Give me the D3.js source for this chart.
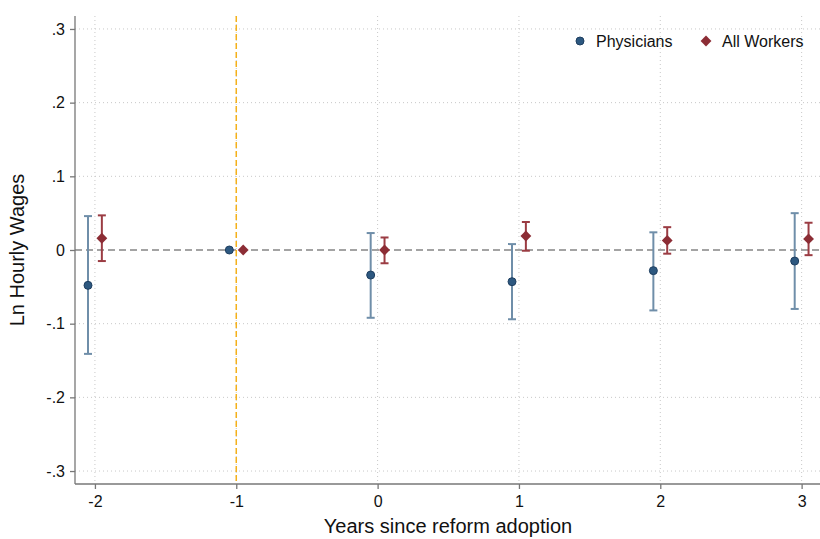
<!DOCTYPE html>
<html>
<head>
<meta charset="utf-8">
<script src="https://cdn.jsdelivr.net/npm/d3@7"></script>
<style>
  body { margin: 0; background: #fff; }
  svg { display: block; font-family: "Liberation Sans", Arial, sans-serif; }
</style>
</head>
<body>
<svg id="chart" width="820" height="539"></svg>
<script>
// event-time years
let years = [-2, -1, 0, 1, 2, 3];

// physicians: estimate and 95% CI
let physEst = [-0.048, 0, -0.034, -0.043, -0.028, -0.015];
let physLo  = [-0.141, null, -0.092, -0.094, -0.082, -0.080];
let physHi  = [0.046, null, 0.023, 0.008, 0.024, 0.050];

// all workers: estimate and 95% CI
let workEst = [0.016, 0, 0.000, 0.019, 0.013, 0.015];
let workLo  = [-0.015, null, -0.018, -0.001, -0.005, -0.007];
let workHi  = [0.047, null, 0.017, 0.038, 0.031, 0.037];

let yTicks = [-0.3, -0.2, -0.1, 0, 0.1, 0.2, 0.3];
let yLabels = ["-.3", "-.2", "-.1", "0", ".1", ".2", ".3"];
let xTicks = [-2, -1, 0, 1, 2, 3];
let xLabels = ["-2", "-1", "0", "1", "2", "3"];

let svg = d3.select("#chart");
let margin = { left: 75, right: 0, top: 16, bottom: 55 };
let width = 820, height = 539;

let x = d3.scaleLinear().domain([-2.141, 3.13]).range([margin.left, width - margin.right]);
let y = d3.scaleLinear().domain([-0.3176, 0.3176]).range([height - margin.bottom, margin.top]);

let offset = 0.049;
let physColor = "#2d5880", physCI = "#6f8ea9";
let workColor = "#8c2d35", workCI = "#9b3c43";

// grid
let grid = svg.append("g");
grid.selectAll(".hg").data(yTicks.filter(d => d !== 0)).enter().append("line")
    .attr("x1", margin.left).attr("x2", width)
    .attr("y1", d => y(d)).attr("y2", d => y(d))
    .attr("stroke", "#c8c8c8").attr("stroke-width", 1).attr("stroke-dasharray", "1,3");
grid.selectAll(".vg").data(xTicks).enter().append("line")
    .attr("x1", d => x(d)).attr("x2", d => x(d))
    .attr("y1", margin.top).attr("y2", height - margin.bottom)
    .attr("stroke", "#c8c8c8").attr("stroke-width", 1).attr("stroke-dasharray", "1,3");

// zero reference line
svg.append("line")
    .attr("x1", margin.left).attr("x2", width)
    .attr("y1", y(0)).attr("y2", y(0))
    .attr("stroke", "#858585").attr("stroke-width", 1.3).attr("stroke-dasharray", "7,4");

// reform line at -1
svg.append("line")
    .attr("x1", x(-1)).attr("x2", x(-1))
    .attr("y1", margin.top).attr("y2", height - margin.bottom)
    .attr("stroke", "#f5b11a").attr("stroke-width", 1.5).attr("stroke-dasharray", "6,3");

// axes
let yAxis = d3.axisLeft(y).tickValues(yTicks).tickSize(5).tickPadding(5)
    .tickFormat((d, i) => yLabels[i]);
let gy = svg.append("g").attr("transform", "translate(" + margin.left + ",0)").call(yAxis);
gy.select(".domain").attr("d", "M0," + margin.top + "V" + (height - margin.bottom));

let xAxis = d3.axisBottom(x).tickValues(xTicks).tickSize(5).tickPadding(7)
    .tickFormat((d, i) => xLabels[i]);
let gx = svg.append("g").attr("transform", "translate(0," + (height - margin.bottom) + ")").call(xAxis);
gx.select(".domain").attr("d", "M" + margin.left + ",0H" + width);

svg.selectAll(".domain, .tick line").attr("stroke", "#777").attr("stroke-width", 1.3);
svg.selectAll(".tick text").attr("fill", "#111").style("font-size", "16px");

// axis titles
svg.append("text")
    .attr("transform", "translate(24,250) rotate(-90)")
    .attr("text-anchor", "middle")
    .style("font-size", "20px").attr("fill", "#111")
    .text("Ln Hourly Wages");
svg.append("text")
    .attr("x", 448).attr("y", 533)
    .attr("text-anchor", "middle")
    .style("font-size", "20px").attr("fill", "#111")
    .text("Years since reform adoption");

// series drawing
function drawSeries(est, lo, hi, dx, color, ciColor, shape) {
    let g = svg.append("g");
    years.forEach(function(yr, i) {
        let cx = x(yr + dx);
        if (lo[i] !== null) {
            g.append("line").attr("x1", cx).attr("x2", cx)
                .attr("y1", y(lo[i])).attr("y2", y(hi[i]))
                .attr("stroke", ciColor).attr("stroke-width", 2);
            [lo[i], hi[i]].forEach(v => {
                g.append("line").attr("x1", cx - 4).attr("x2", cx + 4)
                    .attr("y1", y(v)).attr("y2", y(v))
                    .attr("stroke", ciColor).attr("stroke-width", 2);
            });
        }
        if (shape === "circle") {
            g.append("circle").attr("cx", cx).attr("cy", y(est[i])).attr("r", 4)
                .attr("fill", color).attr("stroke", "#1f3f60").attr("stroke-width", 1);
        } else {
            g.append("path")
                .attr("d", d3.symbol().type(d3.symbolDiamond2).size(75)())
                .attr("transform", "translate(" + cx + "," + y(est[i]) + ")")
                .attr("fill", color);
        }
    });
}
drawSeries(physEst, physLo, physHi, -offset, physColor, physCI, "circle");
drawSeries(workEst, workLo, workHi, offset, workColor, workCI, "diamond");

// legend
let leg = svg.append("g");
leg.append("circle").attr("cx", 580).attr("cy", 41).attr("r", 4)
    .attr("fill", physColor).attr("stroke", "#1f3f60").attr("stroke-width", 1);
leg.append("text").attr("x", 596).attr("y", 47).style("font-size", "16px").attr("fill", "#111").text("Physicians");
leg.append("path")
    .attr("d", d3.symbol().type(d3.symbolDiamond2).size(75)())
    .attr("transform", "translate(706,41)").attr("fill", workColor);
leg.append("text").attr("x", 722).attr("y", 47).style("font-size", "16px").attr("fill", "#111").text("All Workers");
</script>
</body>
</html>
